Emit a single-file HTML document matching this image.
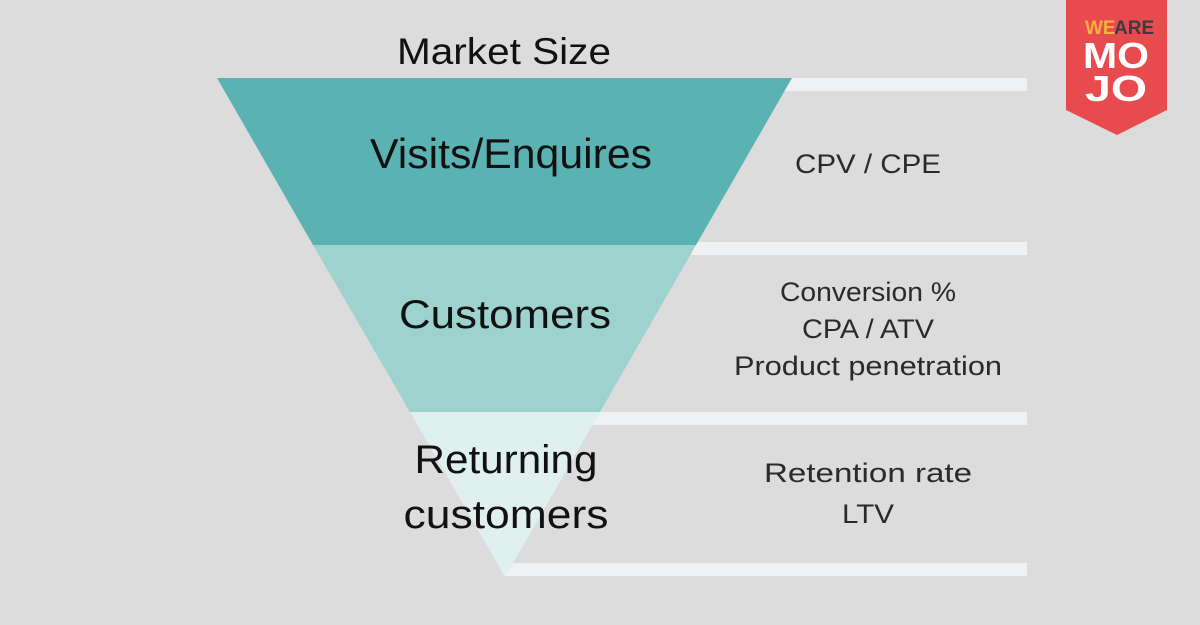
<!DOCTYPE html>
<html><head><meta charset="utf-8"><style>
body{margin:0;width:1200px;height:625px;background:#dcdcdc;overflow:hidden;font-family:"Liberation Sans",sans-serif}
</style></head><body>
<svg width="1200" height="625" xmlns="http://www.w3.org/2000/svg" style="position:absolute;left:0;top:0">
<rect width="1200" height="625" fill="#dcdcdc"/>
<g fill="#f0f1f2">
<rect x="780" y="78" width="247" height="13"/>
<rect x="680" y="242" width="347" height="13"/>
<rect x="590" y="412" width="437" height="13"/>
<rect x="505" y="563" width="522" height="13"/>
</g>
<polygon points="217,78 792,78 696,245 313,245" fill="#5ab3b2"/>
<polygon points="313,245 696,245 600,412 410,412" fill="#9dd2cf"/>
<polygon points="410,412 600,412 505,577" fill="#dff0ef"/>
<g font-family="Liberation Sans, sans-serif" fill="#111" text-anchor="middle" lengthAdjust="spacingAndGlyphs">
<text x="504" y="64" font-size="37" textLength="214" lengthAdjust="spacingAndGlyphs">Market Size</text>
<text x="511" y="168" font-size="42" textLength="282" lengthAdjust="spacingAndGlyphs">Visits/Enquires</text>
<text x="505" y="328" font-size="40" textLength="212" lengthAdjust="spacingAndGlyphs">Customers</text>
<text x="506" y="473" font-size="40" textLength="183" lengthAdjust="spacingAndGlyphs">Returning</text>
<text x="506" y="528" font-size="40" textLength="205" lengthAdjust="spacingAndGlyphs">customers</text>
</g>
<g font-family="Liberation Sans, sans-serif" fill="#2a2a2a" text-anchor="middle" font-size="27">
<text x="868" y="173" textLength="146" lengthAdjust="spacingAndGlyphs">CPV / CPE</text>
<text x="868" y="301" textLength="176" lengthAdjust="spacingAndGlyphs">Conversion %</text>
<text x="868" y="338" textLength="132" lengthAdjust="spacingAndGlyphs">CPA / ATV</text>
<text x="868" y="375" textLength="268" lengthAdjust="spacingAndGlyphs">Product penetration</text>
<text x="868" y="482" textLength="208" lengthAdjust="spacingAndGlyphs">Retention rate</text>
<text x="868" y="523" textLength="52" lengthAdjust="spacingAndGlyphs">LTV</text>
</g>
<polygon points="1066,0 1167,0 1167,110 1117,135 1066,110" fill="#e84b4d"/>
<text x="1085" y="34" font-size="19" font-weight="bold" fill="#f5b13d" font-family="Liberation Sans, sans-serif">WE</text>
<text x="1114" y="34" font-size="19" font-weight="bold" fill="#3a3a45" font-family="Liberation Sans, sans-serif">ARE</text>
<text x="1116" y="68" font-size="36" font-weight="bold" fill="#fff" text-anchor="middle" font-family="Liberation Sans, sans-serif" textLength="66" lengthAdjust="spacingAndGlyphs">MO</text>
<text x="1116" y="101" font-size="36" font-weight="bold" fill="#fff" text-anchor="middle" font-family="Liberation Sans, sans-serif" textLength="62" lengthAdjust="spacingAndGlyphs">JO</text>
</svg>
</body></html>
